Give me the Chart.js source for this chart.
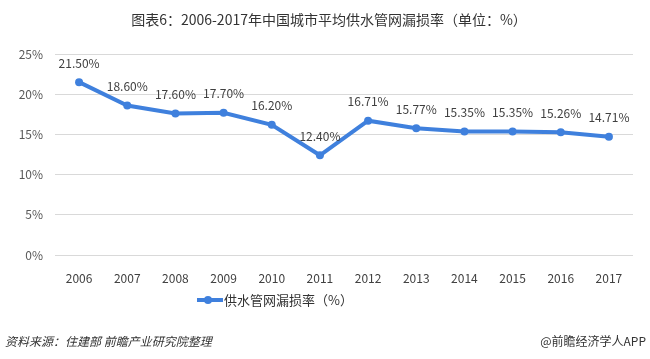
<!DOCTYPE html>
<html><head><meta charset="utf-8">
<script src="https://cdn.jsdelivr.net/npm/chart.js@4/dist/chart.umd.min.js"></script>
<style>html,body{margin:0;padding:0;background:#fff}#wrap{width:650px;height:359px;position:relative}</style>
</head><body><div id="wrap"><canvas id="c" width="650" height="359"></canvas></div>
<script>
const title = "图表6：2006-2017年中国城市平均供水管网漏损率（单位：%）";
const categories = ["2006","2007","2008","2009","2010","2011","2012","2013","2014","2015","2016","2017"];
const leakRate = [21.50,18.60,17.60,17.70,16.20,12.40,16.71,15.77,15.35,15.35,15.26,14.71];
const seriesName = "供水管网漏损率（%）";
const sourceText = "资料来源：住建部 前瞻产业研究院整理";
const brandText = "@前瞻经济学人APP";
const yTicks = [0,5,10,15,20,25];

const FONT = "'Noto Sans CJK SC','Microsoft YaHei',sans-serif";
const LINE = '#3f80dd';

const deco = {
  id:'deco',
  afterDatasetsDraw(chart){
    const ctx = chart.ctx;
    const meta = chart.getDatasetMeta(0);
    ctx.save();
    ctx.font = "12px " + FONT;
    ctx.fillStyle = '#404040';
    ctx.textAlign='center'; ctx.textBaseline='middle';
    meta.data.forEach((p,i)=>{
      ctx.fillText(leakRate[i].toFixed(2)+'%', p.x, p.y-19);
    });
    ctx.restore();
  },
  afterDraw(chart){
    const ctx = chart.ctx;
    ctx.save();
    ctx.font = "14px " + FONT;
    ctx.fillStyle = '#333';
    ctx.textAlign='center'; ctx.textBaseline='middle';
    ctx.fillText(title, 329, 20);
    ctx.strokeStyle = LINE; ctx.lineWidth = 4;
    ctx.beginPath(); ctx.moveTo(197,300); ctx.lineTo(223,300); ctx.stroke();
    ctx.fillStyle = LINE;
    ctx.beginPath(); ctx.arc(208,300,4,0,Math.PI*2); ctx.fill();
    ctx.font = "13px " + FONT;
    ctx.fillStyle = '#333';
    ctx.textAlign='left';
    ctx.fillText(seriesName, 224, 300);
    ctx.font = "italic 12px " + FONT;
    ctx.fillStyle = '#333';
    ctx.textAlign='left';
    ctx.fillText(sourceText, 5, 341);
    ctx.font = "12px " + FONT;
    ctx.textAlign='right';
    ctx.fillText(brandText, 646, 341);
    ctx.restore();
  }
};

new Chart(document.getElementById('c'), {
  type:'line',
  data:{labels:categories, datasets:[{label:seriesName, data:leakRate, borderColor:LINE, backgroundColor:LINE,
    borderWidth:4, pointRadius:4, pointHoverRadius:4, pointBackgroundColor:LINE, pointBorderWidth:0, tension:0}]},
  options:{
    responsive:false, animation:false,
    layout:{padding:{top:54,bottom:74,left:0,right:17}},
    plugins:{legend:{display:false}, title:{display:false}, tooltip:{enabled:false}},
    scales:{
      x:{offset:true, grid:{display:false}, border:{display:false},
        ticks:{color:'#404040', font:{size:12, family:FONT}, padding:8, maxRotation:0},
        afterFit(s){s.height=30;}},
      y:{min:0,max:25, grid:{color:'#d9d9d9', drawTicks:false}, border:{display:false},
        afterBuildTicks(s){s.ticks = yTicks.map(v=>({value:v}));},
        ticks:{color:'#595959', font:{size:12, family:FONT}, padding:12, callback:v=>v+'%'},
        afterFit(s){s.width=55;}}
    }
  },
  plugins:[deco]
});
</script></body></html>
